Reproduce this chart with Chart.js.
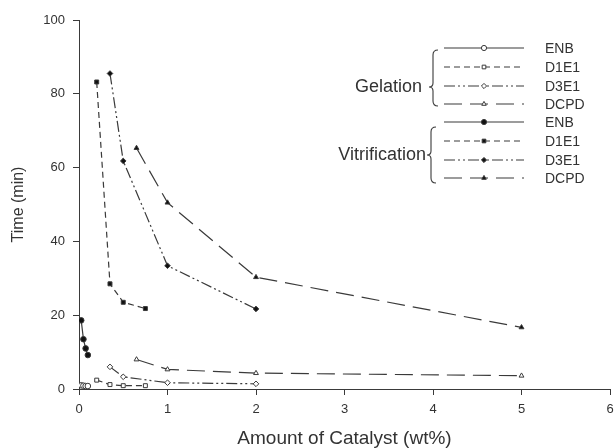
<!DOCTYPE html>
<html>
<head>
<meta charset="utf-8">
<script src="https://cdn.jsdelivr.net/npm/chart.js@4.4.1/dist/chart.umd.min.js"></script>
<style>
  html, body { margin: 0; padding: 0; background: #fff; }
  #wrap { width: 615px; height: 448px; }
</style>
</head>
<body>
<div id="wrap"><canvas id="cureChart" width="615" height="448"></canvas></div>
<script>
// monomer systems
const seriesNames = ["ENB", "D1E1", "D3E1", "DCPD"];

// catalyst amount (wt%) for each system
const xENB  = [0.025, 0.05, 0.075, 0.1];
const xD1E1 = [0.2, 0.35, 0.5, 0.75];
const xD3E1 = [0.35, 0.5, 1, 2];
const xDCPD = [0.65, 1, 2, 5];

// gelation time (min)
const gelENB  = [1.0, 0.9, 0.8, 0.8];
const gelD1E1 = [2.4, 1.2, 0.9, 0.9];
const gelD3E1 = [6.0, 3.3, 1.7, 1.4];
const gelDCPD = [8.0, 5.3, 4.3, 3.6];

// vitrification time (min)
const vitENB  = [18.6, 13.5, 11.0, 9.2];
const vitD1E1 = [83.2, 28.5, 23.5, 21.8];
const vitD3E1 = [85.5, 61.8, 33.4, 21.7];
const vitDCPD = [65.3, 50.5, 30.3, 16.7];

const xTicks = [0, 1, 2, 3, 4, 5, 6];
const yTicks = [0, 20, 40, 60, 80, 100];

const ink = "#3a3a3a";
const styles = {
    ENB:  { dash: [],                 point: "circle" },
    D1E1: { dash: [6, 4],             point: "rect" },
    D3E1: { dash: [11, 3, 2, 3, 2, 3], point: "rectRot" },
    DCPD: { dash: [18, 8],            point: "triangle" }
};

const xs = { ENB: xENB, D1E1: xD1E1, D3E1: xD3E1, DCPD: xDCPD };
const gel = { ENB: gelENB, D1E1: gelD1E1, D3E1: gelD3E1, DCPD: gelDCPD };
const vit = { ENB: vitENB, D1E1: vitD1E1, D3E1: vitD3E1, DCPD: vitDCPD };

function makeSet(name, vals, group) {
    const st = styles[name];
    return {
        label: name,
        group: group,
        data: xs[name].map((x, i) => ({ x: x, y: vals[i] })),
        showLine: true,
        borderColor: ink,
        borderWidth: 1.2,
        borderDash: st.dash,
        pointStyle: st.point,
        pointRadius: 2.8,
        pointBorderWidth: 1,
        pointBorderColor: ink,
        pointBackgroundColor: group === "Gelation" ? "#fff" : "#111",
        backgroundColor: group === "Gelation" ? "#fff" : "#111"
    };
}

const datasets = [];
seriesNames.forEach(n => datasets.push(makeSet(n, gel[n], "Gelation")));
seriesNames.forEach(n => datasets.push(makeSet(n, vit[n], "Vitrification")));

// bracketed legend drawn by hand
function brace(ctx, x, top, bottom, tip) {
    ctx.beginPath();
    ctx.moveTo(x + 5, top);
    ctx.quadraticCurveTo(x, top, x, top + 5);
    ctx.lineTo(x, tip - 4);
    ctx.quadraticCurveTo(x, tip, x - 4, tip);
    ctx.quadraticCurveTo(x, tip, x, tip + 4);
    ctx.lineTo(x, bottom - 5);
    ctx.quadraticCurveTo(x, bottom, x + 5, bottom);
    ctx.stroke();
}

const groupLegend = {
    id: "groupLegend",
    afterDraw(chart) {
        const ctx = chart.ctx;
        const rows = [48, 67, 86, 104, 122, 141, 160, 178];
        ctx.save();
        chart.data.datasets.forEach((ds, i) => {
            const y = rows[i];
            ctx.strokeStyle = ink;
            ctx.lineWidth = 1.2;
            ctx.setLineDash(ds.borderDash);
            ctx.beginPath();
            ctx.moveTo(444, y);
            ctx.lineTo(524, y);
            ctx.stroke();
            ctx.setLineDash([]);
            ctx.fillStyle = ds.pointBackgroundColor;
            ctx.strokeStyle = ink;
            ctx.lineWidth = 1;
            Chart.helpers.drawPoint(ctx, { pointStyle: ds.pointStyle, radius: 2.6, rotation: 0, borderWidth: 1 }, 484, y);
            ctx.fillStyle = "#333";
            ctx.font = "14px Arial, 'Liberation Sans', sans-serif";
            ctx.textAlign = "left";
            ctx.textBaseline = "middle";
            ctx.fillText(ds.label, 545, y + 1);
        });
        ctx.strokeStyle = ink;
        ctx.lineWidth = 1.1;
        brace(ctx, 433, 50, 106, 87);
        brace(ctx, 431, 127, 183, 155);
        ctx.fillStyle = "#333";
        ctx.font = "18px Arial, 'Liberation Sans', sans-serif";
        ctx.textAlign = "right";
        ctx.textBaseline = "middle";
        ctx.fillText("Gelation", 422, 87);
        ctx.fillText("Vitrification", 426, 155);
        ctx.restore();
    }
};

const ctx = document.getElementById("cureChart").getContext("2d");

new Chart(ctx, {
    type: "scatter",
    data: { datasets: datasets },
    options: {
        responsive: false,
        animation: false,
        layout: { padding: { top: 20, right: 0, bottom: 0, left: 0 } },
        plugins: {
            legend: { display: false },
            tooltip: { enabled: false }
        },
        scales: {
            x: {
                type: "linear",
                min: 0,
                max: 6,
                afterBuildTicks: s => { s.ticks = xTicks.map(v => ({ value: v })); },
                afterFit: s => { s.height = 59; s.paddingRight = 0; s.paddingLeft = 0; },
                grid: { drawOnChartArea: false, drawTicks: true, tickLength: 6, color: ink },
                border: { display: true, color: ink, width: 1 },
                ticks: { color: "#333", padding: 7, font: { family: "Arial, 'Liberation Sans'", size: 13 } },
                title: {
                    display: true,
                    text: "Amount of Catalyst (wt%)",
                    color: "#333",
                    padding: { top: 0, bottom: 0 },
                    font: { family: "Arial, 'Liberation Sans'", size: 19, lineHeight: 1 }
                }
            },
            y: {
                type: "linear",
                min: 0,
                max: 100,
                afterBuildTicks: s => { s.ticks = yTicks.map(v => ({ value: v })); },
                afterFit: s => { s.width = 79; s.paddingTop = 0; s.paddingBottom = 0; },
                grid: { drawOnChartArea: false, drawTicks: true, tickLength: 6, color: ink },
                border: { display: true, color: ink, width: 1 },
                ticks: { color: "#333", padding: 8, font: { family: "Arial, 'Liberation Sans'", size: 13 } },
                title: {
                    display: true,
                    text: "Time (min)",
                    color: "#333",
                    padding: { top: 9, bottom: 0 },
                    font: { family: "Arial, 'Liberation Sans'", size: 16 }
                }
            }
        }
    },
    plugins: [groupLegend]
});
</script>
</body>
</html>
